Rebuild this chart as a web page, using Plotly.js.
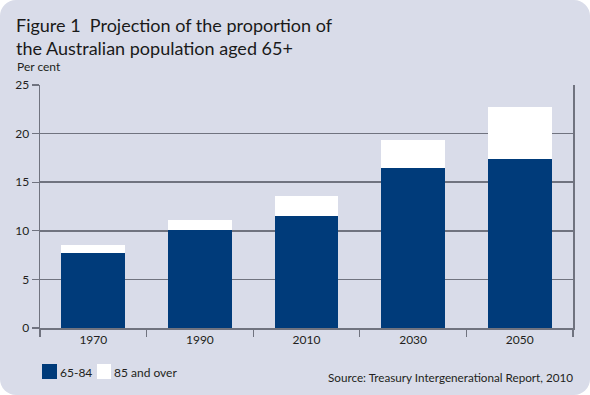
<!DOCTYPE html>
<html>
<head>
<meta charset="utf-8">
<script src="https://cdn.plot.ly/plotly-3.0.1.min.js"></script>
<style>
  html, body { margin: 0; padding: 0; background: #ffffff; }
  #card { position: absolute; left: 0; top: 0; width: 590px; height: 395px; background: #d9dce9; border-radius: 16px; overflow: hidden; }
  #chart { width: 590px; height: 395px; }
</style>
</head>
<body>
<div id="card"><div id="chart"></div></div>
<script>
// Data
const years = ['1970', '1990', '2010', '2030', '2050'];
const age65to84 = [7.7, 10.1, 11.5, 16.5, 17.4];
const age85plus = [0.8, 1.0, 2.1, 2.8, 5.3];
const seriesNames = ['65-84', '85 and over'];
const yTicks = [0, 5, 10, 15, 20, 25];

const darkBlue = '#003b7a';
const gridCol = '#70737f';
const fontFam = 'Lato, "Open Sans", sans-serif';

const traces = [
  { type: 'bar', x: years, y: age65to84, name: seriesNames[0], marker: { color: darkBlue, line: { width: 0 } }, showlegend: false, hoverinfo: 'skip' },
  { type: 'bar', x: years, y: age85plus, name: seriesNames[1], marker: { color: '#ffffff', line: { width: 0 } }, showlegend: false, hoverinfo: 'skip' }
];

const W = 590, H = 395;
const L = 40, R = 573, T = 85, B = 328;
// convert figure pixels to paper coordinates (paper = plot area)
const px = v => (v - L) / (R - L);
const py = v => (B - v) / (B - T);

const layout = {
  width: W, height: H,
  margin: { l: L, r: W - R, t: T, b: H - B, pad: 0 },
  paper_bgcolor: 'rgba(0,0,0,0)',
  plot_bgcolor: 'rgba(0,0,0,0)',
  barmode: 'stack',
  bargap: 0.4,
  font: { family: fontFam, color: '#231f20', size: 12 },
  title: {
    text: 'Figure 1  Projection of the proportion of<br>the Australian population aged 65+',
    xref: 'container', yref: 'container',
    x: 16 / W, xanchor: 'left',
    y: 1 - 32 / H, yanchor: 'top',
    font: { family: fontFam, size: 18, color: '#1a1a1a' }
  },
  xaxis: {
    type: 'category',
    showline: true, linecolor: gridCol, linewidth: 1.5,
    ticks: 'outside', tickson: 'boundaries', ticklen: 7, tickcolor: gridCol, tickwidth: 1.2,
    tickfont: { family: fontFam, size: 12, color: '#231f20' },
    showgrid: false, zeroline: false, fixedrange: true
  },
  yaxis: {
    range: [0, 25], tickvals: yTicks, ticktext: yTicks.map(String),
    showline: true, mirror: true, linecolor: gridCol, linewidth: 1.5,
    ticks: 'outside', ticklen: 7, tickcolor: gridCol, tickwidth: 1.2,
    showgrid: true, gridcolor: gridCol, gridwidth: 1.5,
    zeroline: false,
    tickfont: { family: fontFam, size: 12, color: '#231f20' },
    fixedrange: true
  },
  shapes: [
    { type: 'rect', xref: 'paper', yref: 'paper', x0: px(42), x1: px(57), y0: py(379), y1: py(364), fillcolor: darkBlue, line: { width: 0 } },
    { type: 'rect', xref: 'paper', yref: 'paper', x0: px(97), x1: px(111), y0: py(379), y1: py(364), fillcolor: '#ffffff', line: { width: 0 } }
  ],
  annotations: [
    { text: 'Per cent', xref: 'paper', yref: 'paper', x: px(15), y: py(67), xanchor: 'left', yanchor: 'middle', showarrow: false, font: { family: fontFam, size: 12, color: '#231f20' } },
    { text: seriesNames[0], xref: 'paper', yref: 'paper', x: px(58), y: py(372), xanchor: 'left', yanchor: 'middle', showarrow: false, font: { family: fontFam, size: 12, color: '#231f20' } },
    { text: seriesNames[1], xref: 'paper', yref: 'paper', x: px(112), y: py(372), xanchor: 'left', yanchor: 'middle', showarrow: false, font: { family: fontFam, size: 12, color: '#231f20' } },
    { text: 'Source: Treasury Intergenerational Report, 2010', xref: 'paper', yref: 'paper', x: px(575), y: py(377), xanchor: 'right', yanchor: 'middle', showarrow: false, font: { family: fontFam, size: 11.7, color: '#231f20' } }
  ]
};

Plotly.newPlot('chart', traces, layout, { displayModeBar: false, staticPlot: true });
</script>
</body>
</html>
